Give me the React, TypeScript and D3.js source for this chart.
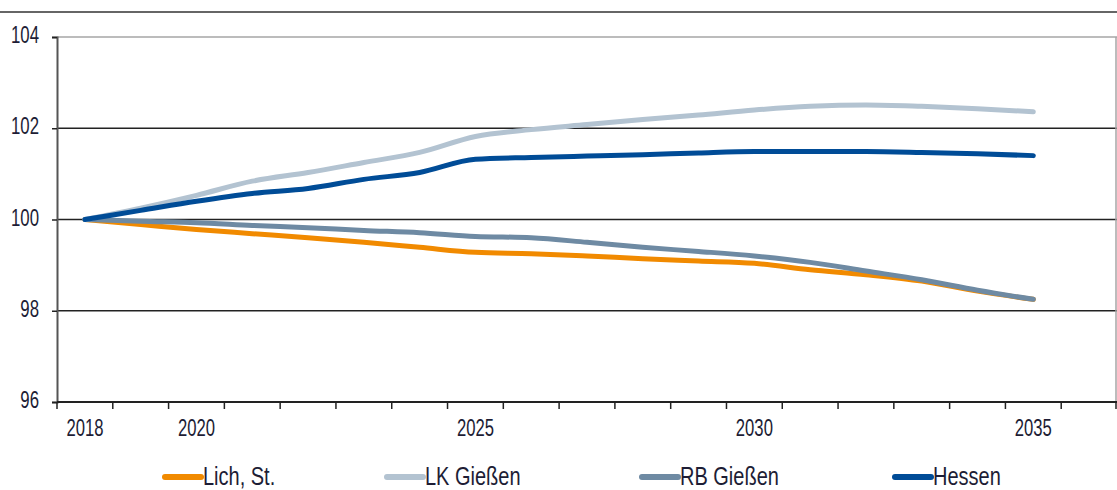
import * as d3 from 'd3';
import { useRef, useEffect } from 'react';

const years = d3.range(2018, 2036);
const axisYears = d3.range(2018, 2037);
const labelYears = [2018, 2020, 2025, 2030, 2035];
const yTicks = [96, 98, 100, 102, 104];

const lich = [100, 99.89, 99.78, 99.69, 99.6, 99.5, 99.39, 99.28, 99.25, 99.2, 99.14, 99.09, 99.04, 98.9, 98.79, 98.65, 98.43, 98.25];
const lkGiessen = [100, 100.25, 100.53, 100.84, 101.03, 101.25, 101.47, 101.82, 101.97, 102.08, 102.19, 102.29, 102.4, 102.48, 102.51, 102.48, 102.43, 102.36];
const rbGiessen = [100, 99.96, 99.93, 99.87, 99.82, 99.76, 99.71, 99.63, 99.6, 99.5, 99.39, 99.3, 99.2, 99.06, 98.87, 98.68, 98.45, 98.25];
const hessen = [100, 100.2, 100.4, 100.57, 100.68, 100.88, 101.03, 101.32, 101.36, 101.39, 101.42, 101.46, 101.49, 101.49, 101.49, 101.47, 101.44, 101.4];

const seriesNames = ['Lich, St.', 'LK Gießen', 'RB Gießen', 'Hessen'];
const seriesValues = [lich, lkGiessen, rbGiessen, hessen];
const colors = ['#F18A00', '#B3C3D1', '#6E8AA3', '#004C97'];
// drawing order: back to front
const drawOrder = [0, 2, 1, 3];
const legendX = [163, 385, 640, 893];

const FONT = '"Liberation Sans", Arial, sans-serif';
const TEXT = '#1d1d35';

export default function App() {
    const svgRef = useRef<SVGSVGElement>(null);

    useEffect(() => {
        if (!svgRef.current) return;
        const svg = d3.select(svgRef.current);
        svg.selectAll('*').remove();

        const W = 1117;
        const left = 57, right = 1117, top = 37, bottom = 402;

        const x = d3.scaleBand<number>().domain(axisYears).range([left, right]).padding(0);
        const y = d3.scaleLinear().domain([96, 104]).range([bottom, top]);
        const cx = (yr: number) => (x(yr) || 0) + x.bandwidth() / 2;

        // top frame line
        svg.append('line')
            .attr('x1', 0).attr('x2', W).attr('y1', 12).attr('y2', 12)
            .attr('stroke', '#333').attr('stroke-width', 1.5);

        // gridlines
        svg.append('g')
            .selectAll('line')
            .data(yTicks.filter(t => t > 96))
            .enter()
            .append('line')
            .attr('x1', left).attr('x2', right)
            .attr('y1', d => y(d)).attr('y2', d => y(d))
            .attr('stroke', d => (d === 104 ? '#a6a6a6' : '#222'))
            .attr('stroke-width', 1.5);

        // right border
        svg.append('line')
            .attr('x1', right - 1).attr('x2', right - 1)
            .attr('y1', top).attr('y2', bottom)
            .attr('stroke', '#a6a6a6').attr('stroke-width', 1.5);

        // y axis
        const yAxis = svg.append('g')
            .attr('transform', `translate(${left},0)`)
            .call(d3.axisLeft(y).tickValues(yTicks).tickSize(5).tickFormat(() => ''));
        yAxis.select('.domain').attr('stroke', '#555').attr('stroke-width', 2);
        yAxis.selectAll('.tick line').attr('stroke', '#222').attr('stroke-width', 1.5);

        svg.append('g')
            .selectAll('text')
            .data(yTicks)
            .enter()
            .append('text')
            .attr('transform', d => `translate(39,${y(d) + 6}) scale(0.7,1)`)
            .attr('text-anchor', 'end')
            .attr('font-family', FONT).attr('font-size', 24).attr('fill', TEXT)
            .text(d => d);

        // x axis: ticks at band boundaries
        const xg = svg.append('g');
        xg.append('line')
            .attr('x1', left).attr('x2', right).attr('y1', bottom).attr('y2', bottom)
            .attr('stroke', '#222').attr('stroke-width', 2);
        xg.selectAll('line.tk')
            .data([...axisYears, 2037])
            .enter()
            .append('line')
            .attr('class', 'tk')
            .attr('x1', d => (d === 2037 ? right - 1 : (x(d) || 0)))
            .attr('x2', d => (d === 2037 ? right - 1 : (x(d) || 0)))
            .attr('y1', bottom).attr('y2', bottom + 7)
            .attr('stroke', '#222').attr('stroke-width', 1.5);
        xg.selectAll('text')
            .data(labelYears)
            .enter()
            .append('text')
            .attr('transform', d => `translate(${cx(d)},436) scale(0.68,1)`)
            .attr('text-anchor', 'middle')
            .attr('font-family', FONT).attr('font-size', 24.5).attr('fill', TEXT)
            .text(d => d);

        // lines
        const line = d3.line<number>()
            .x((_, i) => cx(years[i]))
            .y(d => y(d))
            .curve(d3.curveMonotoneX);

        svg.append('g')
            .selectAll('path')
            .data(drawOrder)
            .enter()
            .append('path')
            .attr('d', i => line(seriesValues[i]) || '')
            .attr('fill', 'none')
            .attr('stroke', i => colors[i])
            .attr('stroke-width', 5)
            .attr('stroke-linecap', 'round')
            .attr('stroke-linejoin', 'round');

        // legend
        const lg = svg.append('g')
            .selectAll('g')
            .data(seriesNames)
            .enter()
            .append('g')
            .attr('transform', (_, i) => `translate(${legendX[i]},477)`);
        lg.append('line')
            .attr('x1', 2).attr('x2', 38).attr('y1', 0).attr('y2', 0)
            .attr('stroke', (_, i) => colors[i])
            .attr('stroke-width', 6)
            .attr('stroke-linecap', 'round');
        lg.append('text')
            .attr('transform', 'translate(40,7.5) scale(0.8,1)')
            .attr('font-family', FONT).attr('font-size', 25).attr('fill', TEXT)
            .text(d => d);
    }, []);

    return (
        <svg
            ref={svgRef}
            width={1117}
            height={490}
            style={{ position: 'absolute', left: 0, top: 0, background: '#fff' }}
        />
    );
}
